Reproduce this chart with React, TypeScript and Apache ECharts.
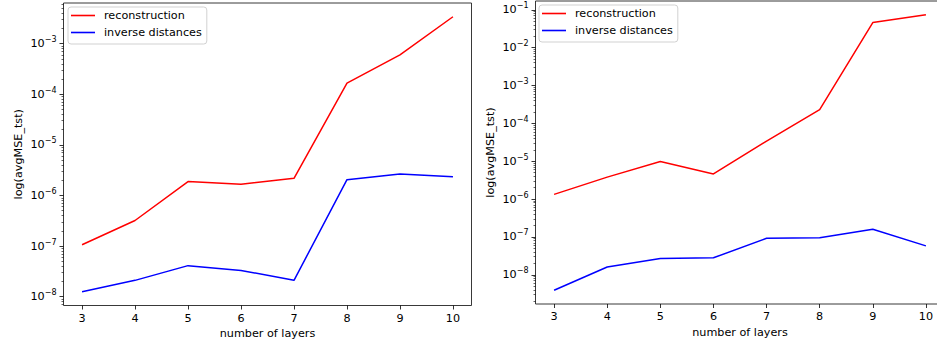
import React, { useEffect, useRef } from 'react';
import * as echarts from 'echarts';

const layers = [3, 4, 5, 6, 7, 8, 9, 10];
const xTicks = [3, 4, 5, 6, 7, 8, 9, 10];

const leftReconstruction = [1.06e-7, 3.2e-7, 1.88e-6, 1.66e-6, 2.18e-6, 1.66e-4, 6.0e-4, 3.4e-3];
const leftInverse = [1.25e-8, 2.1e-8, 4.1e-8, 3.3e-8, 2.1e-8, 2.05e-6, 2.66e-6, 2.33e-6];
const rightReconstruction = [1.33e-6, 3.8e-6, 9.8e-6, 4.6e-6, 3.4e-5, 2.3e-4, 4.6e-2, 7.4e-2];
const rightInverse = [3.9e-9, 1.6e-8, 2.7e-8, 2.8e-8, 9.2e-8, 9.5e-8, 1.6e-7, 5.8e-8];

const leftYTicks = [1e-8, 1e-7, 1e-6, 1e-5, 1e-4, 1e-3];
const rightYTicks = [1e-8, 1e-7, 1e-6, 1e-5, 1e-4, 1e-3, 1e-2, 1e-1];

const seriesNames = ['reconstruction', 'inverse distances'];
const xName = 'number of layers';
const yName = 'log(avgMSE_tst)';

const FONT = 'DejaVu Sans';
const FS = 11.2;

function logLimits(values: number[]): [number, number] {
  const logs = values.map((v) => Math.log10(v));
  const lo = Math.min(...logs);
  const hi = Math.max(...logs);
  const m = (hi - lo) * 0.05;
  return [Math.pow(10, lo - m), Math.pow(10, hi + m)];
}

function minorTicks(min: number, max: number): number[] {
  const out: number[] = [];
  for (let k = Math.floor(Math.log10(min)); k <= Math.ceil(Math.log10(max)); k++) {
    for (let m = 2; m <= 9; m++) {
      const v = m * Math.pow(10, k);
      if (v >= min && v <= max) out.push(v);
    }
  }
  return out;
}

const supLabel = (v: number) => {
  const n = Math.round(Math.log10(v));
  return `{b|10}{s|${n < 0 ? '\u2212' : ''}${Math.abs(n)}}`;
};

export default function App() {
  const ref = useRef<HTMLDivElement>(null);
  useEffect(() => {
    if (!ref.current) return;
    const chart = echarts.init(ref.current, undefined, { renderer: 'svg' });

    const [lMin, lMax] = logLimits([...leftReconstruction, ...leftInverse]);
    const [rMin, rMax] = logLimits([...rightReconstruction, ...rightInverse]);

    const grids = [
      { left: 63.5, top: 3, width: 408, height: 302.5 },
      { left: 535.5, top: 1, width: 409, height: 303 },
    ];

    const textStyle = { fontFamily: FONT, fontSize: FS, color: '#000' };

    const xAxis = grids.map((_, i) => ({
      type: 'value',
      gridIndex: i,
      min: 2.65,
      max: 10.35,
      name: xName,
      nameLocation: 'middle',
      nameGap: 22,
      nameTextStyle: textStyle,
      axisLine: { show: false },
      splitLine: { show: false },
      axisTick: { show: true, inside: false, length: 4, customValues: xTicks, lineStyle: { color: '#000', width: 0.8 } },
      axisLabel: { show: true, customValues: xTicks, margin: 7, ...textStyle },
    }));

    const mkY = (i: number, min: number, max: number, ticks: number[]) => [
      {
        type: 'log',
        logBase: 10,
        gridIndex: i,
        position: 'left',
        min,
        max,
        name: yName,
        nameLocation: 'middle',
        nameRotate: 90,
        nameGap: 40,
        nameTextStyle: textStyle,
        axisLine: { show: false },
        splitLine: { show: false },
        minorTick: { show: false },
        axisTick: { show: true, length: 4, customValues: ticks, lineStyle: { color: '#000', width: 0.8 } },
        axisLabel: {
          show: true,
          customValues: ticks,
          margin: 7,
          formatter: supLabel,
          rich: {
            b: { fontFamily: FONT, fontSize: FS, color: '#000' },
            s: { fontFamily: FONT, fontSize: 8, color: '#000', padding: [0, 0, 8, 0] },
          },
        },
      },
      {
        type: 'log',
        logBase: 10,
        gridIndex: i,
        position: 'left',
        offset: 0,
        min,
        max,
        axisLine: { show: false },
        splitLine: { show: false },
        axisTick: { show: true, length: 2, customValues: minorTicks(min, max), lineStyle: { color: '#000', width: 0.6 } },
        axisLabel: { show: false },
      },
    ];

    const yAxis = [...mkY(0, lMin, lMax, leftYTicks), ...mkY(1, rMin, rMax, rightYTicks)];

    const mkSeries = (name: string, vals: number[], color: string, xi: number, yi: number) => ({
      type: 'line',
      name,
      xAxisIndex: xi,
      yAxisIndex: yi,
      data: layers.map((x, k) => [x, vals[k]]),
      symbol: 'none',
      showSymbol: false,
      lineStyle: { color, width: 1.5 },
      itemStyle: { color },
    });

    const legendBase = {
      orient: 'vertical',
      data: seriesNames,
      icon: 'rect',
      itemWidth: 24,
      itemHeight: 1.6,
      itemGap: 3,
      padding: [1.5, 5, 4.5, 3],
      borderColor: 'rgba(204,204,204,0.9)',
      borderWidth: 1,
      borderRadius: 3,
      backgroundColor: 'rgba(255,255,255,0.8)',
      selectedMode: false,
      textStyle: { ...textStyle, lineHeight: 14, padding: [0, 0, 0, 4] },
    };

    chart.setOption({
      animation: false,
      grid: grids.map((g) => ({ ...g, show: true, borderColor: '#222', borderWidth: 0.9, backgroundColor: 'transparent' })),
      xAxis,
      yAxis,
      legend: [
        { ...legendBase, left: 68, top: 7 },
        { ...legendBase, left: 539, top: 5 },
      ],
      series: [
        mkSeries(seriesNames[0], leftReconstruction, '#ff0000', 0, 0),
        mkSeries(seriesNames[1], leftInverse, '#0000ff', 0, 0),
        mkSeries(seriesNames[0], rightReconstruction, '#ff0000', 1, 2),
        mkSeries(seriesNames[1], rightInverse, '#0000ff', 1, 2),
      ],
    });

    return () => chart.dispose();
  }, []);

  return (
    <div style={{ position: 'fixed', left: 0, top: 0, width: 937, height: 349, overflow: 'hidden', background: '#fff' }}>
      <div ref={ref} style={{ width: 960, height: 349 }} />
    </div>
  );
}
